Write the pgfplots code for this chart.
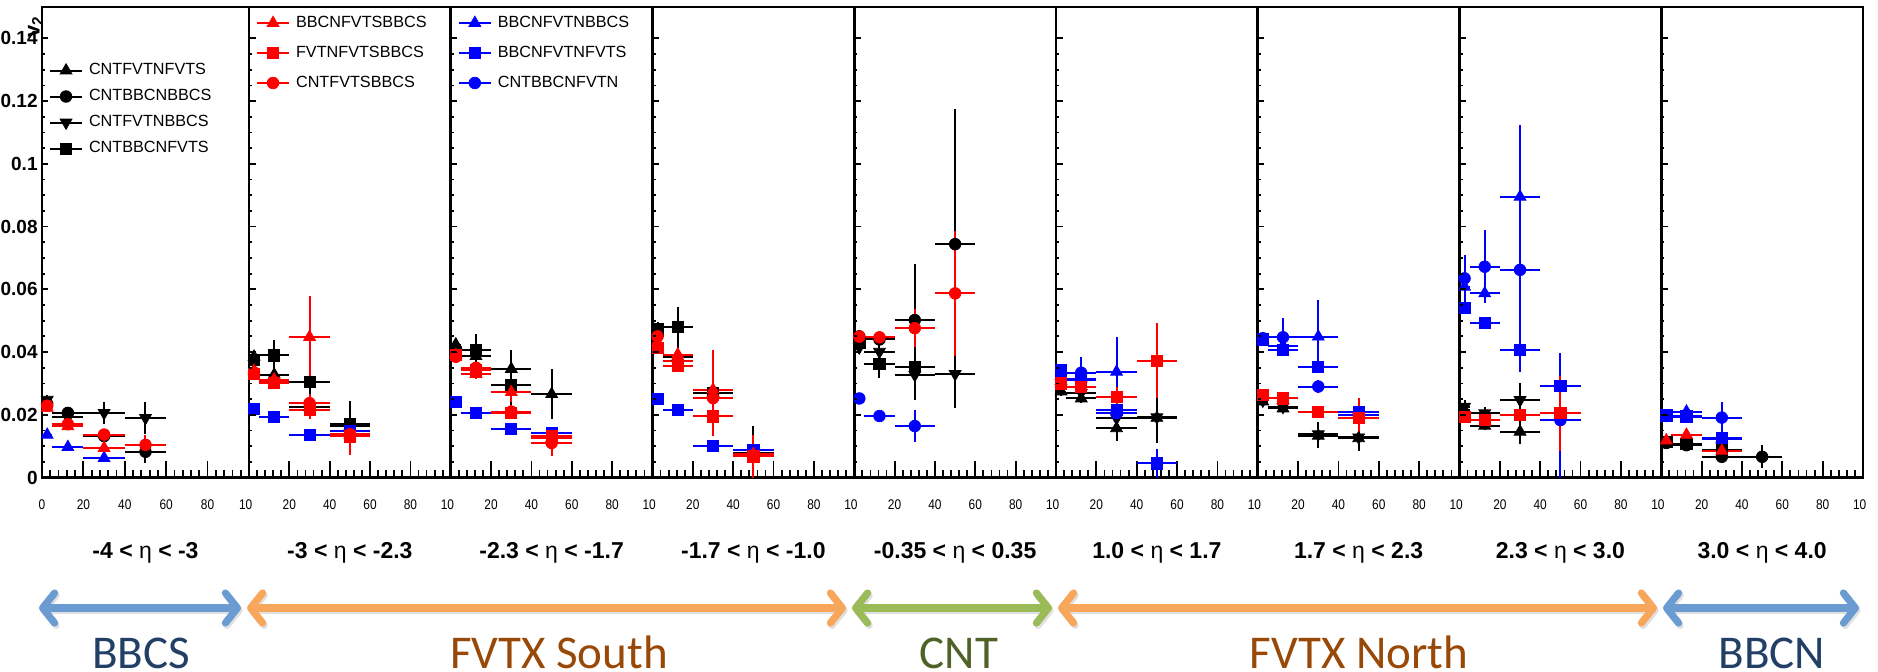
\documentclass[border=0pt]{standalone}
\usepackage{fontspec}
\setmainfont{Liberation Sans}
\newfontfamily\tickfont[FakeStretch=0.85]{Liberation Sans}
\newfontfamily\calfont{Carlito}
\usepackage{pgfplots}
\pgfplotsset{compat=1.18}
\usetikzlibrary{arrows.meta}

\definecolor{arrB}{HTML}{6B9BD1}
\definecolor{arrO}{HTML}{F8A65C}
\definecolor{arrG}{HTML}{9BBB59}
\definecolor{txtB}{HTML}{223F66}
\definecolor{txtO}{HTML}{984807}
\definecolor{txtG}{HTML}{4F6228}

% marker and colour styles (tikz level, so legends can use them too)
\tikzset{
  bk/.style={color=black}, rd/.style={color=red}, bl/.style={color=blue},
  tU/.style={mark=triangle*, mark size=3.4pt},
  tD/.style={mark=triangle*, mark size=3.4pt, mark options={rotate=180}},
  ci/.style={mark=*, mark size=2.9pt},
  sq/.style={mark=square*, mark size=2.8pt},
}

\pgfplotsset{
  eb/.style={only marks, forget plot,
    error bars/.cd, x dir=both, x explicit, y dir=both, y explicit,
    error mark=none, error bar style={line width=1pt, solid}},
  panel/.style={
    scale only axis, height=235.25pt, anchor=south west,
    xmin=0, xmax=100, ymin=0, ymax=0.15,
    xtick={0,20,40,60,80,100}, minor x tick num=4,
    xtick pos=left, tick align=inside,
    major tick length=8.5pt, minor tick length=4pt,
    ytick=\empty,
    axis line style={line width=1.4pt},
    tick style={line width=0.9pt, black},
    xticklabel style={font=\tickfont\fontsize{7}{8}\selectfont, anchor=base, yshift=-15.75pt, inner sep=0pt},
    legend cell align=left,
    legend style={draw=none, fill=none, inner sep=0pt, outer sep=0pt, anchor=north west,
      font=\fontsize{8.1}{9}\selectfont, column sep=3pt, nodes={inner sep=0pt}},
    legend image code/.code={%
      \path[draw=none, fill=none] (0pt,-4pt) rectangle (16pt,4pt);
      \draw[line width=1pt,##1] (0pt,0pt) -- (16pt,0pt);
      \draw[##1] plot coordinates {(8pt,0pt)};},
  },
  yframe/.style={
    scale only axis, height=235.25pt, anchor=south west,
    xmin=0, xmax=100, ymin=0, ymax=0.15,
    xtick=\empty, ytick={0,0.02,0.04,0.06,0.08,0.1,0.12,0.14},
    minor y tick num=3, ytick pos=left, tick align=inside,
    major tick length=3.25pt, minor tick length=1.6pt,
    axis line style={draw=none},
    tick style={line width=0.9pt, black},
    yticklabels={},
    yticklabel style={font=\bfseries\fontsize{9.5}{10}\selectfont, anchor=east, inner sep=0pt, xshift=-2pt},
    every axis y label/.style={at={(rel axis cs:-0.012,0.996)}, rotate=90, anchor=base east,
      font=\bfseries\fontsize{11}{12}\selectfont},
  },
}

% one series: x, y, x error, y error
\newcommand{\pts}[2]{\addplot[#1,eb] table[row sep=\\, x index=0, y index=1, x error index=2, y error index=3]{#2};}

\begin{document}
\begin{tikzpicture}
\useasboundingbox (0,0) rectangle (939pt,335.5pt);

% ---------- -4 < eta < -3
\begin{axis}[panel, at={(21pt,96.75pt)}, width=103.5pt,
  xticklabels={0,20,40,60,80,{10\hphantom{0}}},
  legend style={at={(axis description cs:0.034,0.882)}, row sep=5pt}]
\pts{bk,ci}{2.5 0.0235 2.5 0.0010\\ 12.5 0.0206 7.5 0.0012\\ 30 0.0132 10 0.0015\\ 50 0.0082 10 0.0037\\}
\pts{bk,tD}{2.5 0.0248 2.5 0.0015\\ 12.5 0.0192 7.5 0.0015\\ 30 0.0206 10 0.0035\\ 50 0.0190 10 0.0050\\}
\pts{bl,tU}{2.5 0.0136 2.5 0.0010\\ 12.5 0.0097 7.5 0.0010\\ 30 0.0062 10 0.0012\\}
\pts{rd,tU}{2.5 0.0222 2.5 0.0010\\ 12.5 0.0163 7.5 0.0010\\ 30 0.0094 10 0.0012\\}
\pts{rd,ci}{2.5 0.0229 2.5 0.0010\\ 12.5 0.0170 7.5 0.0010\\ 30 0.0137 10 0.0015\\ 50 0.0104 10 0.0030\\}
\addlegendimage{bk,tU}\addlegendentry{CNTFVTNFVTS}
\addlegendimage{bk,ci}\addlegendentry{CNTBBCNBBCS}
\addlegendimage{bk,tD}\addlegendentry{CNTFVTNBBCS}
\addlegendimage{bk,sq}\addlegendentry{CNTBBCNFVTS}
\end{axis}
\begin{axis}[yframe, at={(21pt,96.75pt)}, width=103.5pt,
  yticklabels={0,0.02,0.04,0.06,0.08,0.1,0.12,0.14}, ylabel={v\textsubscript{2}}]
\end{axis}

% ---------- -3 < eta < -2.3
\begin{axis}[panel, at={(124.5pt,96.75pt)}, width=100.875pt,
  xticklabels={,20,40,60,80,{10\hphantom{0}}},
  legend style={at={(axis description cs:0.035,0.983)}, row sep=7pt}]
\pts{bk,tU}{2.5 0.0385 2.5 0.0015\\ 12.5 0.0328 7.5 0.0015\\ 30 0.0224 10 0.0030\\ 50 0.0163 10 0.0080\\}
\pts{bk,sq}{2.5 0.0374 2.5 0.0015\\ 12.5 0.0389 7.5 0.0050\\ 30 0.0305 10 0.0100\\ 50 0.0170 10 0.0040\\}
\pts{bl,sq}{2.5 0.0218 2.5 0.0010\\ 12.5 0.0193 7.5 0.0010\\ 30 0.0136 10 0.0015\\ 50 0.0147 10 0.0020\\}
\pts{rd,tU}{2.5 0.0340 2.5 0.0015\\ 12.5 0.0312 7.5 0.0015\\ 30 0.0448 10 0.0130\\ 50 0.0135 10 0.0020\\}
\pts{rd,sq}{2.5 0.0331 2.5 0.0015\\ 12.5 0.0301 7.5 0.0015\\ 30 0.0216 10 0.0030\\ 50 0.0131 10 0.0060\\}
\pts{rd,ci}{2.5 0.0335 2.5 0.0015\\ 12.5 0.0305 7.5 0.0015\\ 30 0.0237 10 0.0030\\ 50 0.0138 10 0.0030\\}
\addlegendimage{rd,tU}\addlegendentry{BBCNFVTSBBCS}
\addlegendimage{rd,sq}\addlegendentry{FVTNFVTSBBCS}
\addlegendimage{rd,ci}\addlegendentry{CNTFVTSBBCS}
\end{axis}
\begin{axis}[yframe, at={(124.5pt,96.75pt)}, width=100.875pt]
\end{axis}

% ---------- -2.3 < eta < -1.7
\begin{axis}[panel, at={(225.375pt,96.75pt)}, width=100.875pt,
  xticklabels={,20,40,60,80,{10\hphantom{0}}},
  legend style={at={(axis description cs:0.035,0.983)}, row sep=7pt}]
\pts{bk,tU}{2.5 0.0424 2.5 0.0020\\ 12.5 0.0387 7.5 0.0020\\ 30 0.0346 10 0.0060\\ 50 0.0266 10 0.0080\\}
\pts{bk,sq}{2.5 0.0400 2.5 0.0015\\ 12.5 0.0408 7.5 0.0050\\ 30 0.0296 10 0.0070\\}
\pts{bl,sq}{2.5 0.0240 2.5 0.0010\\ 12.5 0.0206 7.5 0.0010\\ 30 0.0154 10 0.0015\\ 50 0.0142 10 0.0015\\}
\pts{rd,tU}{2.5 0.0390 2.5 0.0015\\ 12.5 0.0330 7.5 0.0015\\ 30 0.0272 10 0.0030\\ 50 0.0125 10 0.0020\\}
\pts{rd,sq}{2.5 0.0392 2.5 0.0015\\ 12.5 0.0344 7.5 0.0015\\ 30 0.0206 10 0.0020\\ 50 0.0131 10 0.0020\\}
\pts{rd,ci}{2.5 0.0385 2.5 0.0015\\ 12.5 0.0350 7.5 0.0015\\ 30 0.0210 10 0.0020\\ 50 0.0110 10 0.0040\\}
\addlegendimage{bl,tU}\addlegendentry{BBCNFVTNBBCS}
\addlegendimage{bl,sq}\addlegendentry{BBCNFVTNFVTS}
\addlegendimage{bl,ci}\addlegendentry{CNTBBCNFVTN}
\end{axis}
\begin{axis}[yframe, at={(225.375pt,96.75pt)}, width=100.875pt]
\end{axis}

% ---------- -1.7 < eta < -1.0
\begin{axis}[panel, at={(326.25pt,96.75pt)}, width=100.875pt,
  xticklabels={,20,40,60,80,{10\hphantom{0}}}]
\pts{bk,tU}{2.5 0.0460 2.5 0.0020\\ 12.5 0.0384 7.5 0.0020\\ 30 0.0270 10 0.0030\\ 50 0.0078 10 0.0085\\}
\pts{bk,sq}{2.5 0.0472 2.5 0.0025\\ 12.5 0.0479 7.5 0.0065\\ 30 0.0269 10 0.0105\\}
\pts{bl,sq}{2.5 0.0251 2.5 0.0010\\ 12.5 0.0216 7.5 0.0010\\ 30 0.0102 10 0.0015\\ 50 0.0088 10 0.0010\\}
\pts{rd,tU}{2.5 0.0430 2.5 0.0015\\ 12.5 0.0392 7.5 0.0020\\ 30 0.0280 10 0.0125\\ 50 0.0075 10 0.0020\\}
\pts{rd,sq}{2.5 0.0413 2.5 0.0015\\ 12.5 0.0357 7.5 0.0020\\ 30 0.0195 10 0.0030\\ 50 0.0067 10 0.0068\\}
\pts{rd,ci}{2.5 0.0450 2.5 0.0015\\ 12.5 0.0370 7.5 0.0020\\ 30 0.0253 10 0.0120\\ 50 0.0070 10 0.0030\\}
\end{axis}
\begin{axis}[yframe, at={(326.25pt,96.75pt)}, width=100.875pt]
\end{axis}

% ---------- -0.35 < eta < 0.35
\begin{axis}[panel, at={(427.125pt,96.75pt)}, width=100.875pt,
  xticklabels={,20,40,60,80,{10\hphantom{0}}}]
\pts{bk,ci}{2.5 0.0450 2.5 0.0020\\ 12.5 0.0440 7.5 0.0020\\ 30 0.0502 10 0.0180\\ 50 0.0744 10 0.0430\\}
\pts{bk,tD}{2.5 0.0415 2.5 0.0020\\ 12.5 0.0401 7.5 0.0020\\ 30 0.0327 10 0.0080\\ 50 0.0330 10 0.0110\\}
\pts{bk,sq}{2.5 0.0428 2.5 0.0020\\ 12.5 0.0362 7.5 0.0045\\ 30 0.0353 10 0.0040\\}
\pts{bl,ci}{2.5 0.0252 2.5 0.0010\\ 12.5 0.0196 7.5 0.0015\\ 30 0.0164 10 0.0050\\}
\pts{rd,ci}{2.5 0.0449 2.5 0.0015\\ 12.5 0.0447 7.5 0.0015\\ 30 0.0476 10 0.0060\\ 50 0.0587 10 0.0200\\}
\end{axis}
\begin{axis}[yframe, at={(427.125pt,96.75pt)}, width=100.875pt]
\end{axis}

% ---------- 1.0 < eta < 1.7
\begin{axis}[panel, at={(528pt,96.75pt)}, width=100.875pt,
  xticklabels={,20,40,60,80,{10\hphantom{0}}}]
\pts{bk,tU}{2.5 0.0274 2.5 0.0015\\ 12.5 0.0252 7.5 0.0015\\ 30 0.0157 10 0.0040\\ 50 0.0190 10 0.0080\\}
\pts{bk,tD}{2.5 0.0285 2.5 0.0015\\ 12.5 0.0270 7.5 0.0015\\ 30 0.0189 10 0.0030\\ 50 0.0192 10 0.0078\\}
\pts{bl,tU}{2.5 0.0325 2.5 0.0020\\ 12.5 0.0315 7.5 0.0020\\ 30 0.0337 10 0.0110\\}
\pts{bl,sq}{2.5 0.0343 2.5 0.0015\\ 12.5 0.0310 7.5 0.0015\\ 30 0.0215 10 0.0015\\ 50 0.0045 10 0.0047\\}
\pts{bl,ci}{2.5 0.0330 2.5 0.0020\\ 12.5 0.0334 7.5 0.0050\\ 30 0.0205 10 0.0020\\}
\pts{rd,sq}{2.5 0.0300 2.5 0.0015\\ 12.5 0.0290 7.5 0.0015\\ 30 0.0258 10 0.0030\\ 50 0.0372 10 0.0120\\}
\end{axis}
\begin{axis}[yframe, at={(528pt,96.75pt)}, width=100.875pt]
\end{axis}

% ---------- 1.7 < eta < 2.3
\begin{axis}[panel, at={(628.875pt,96.75pt)}, width=100.875pt,
  xticklabels={,20,40,60,80,{10\hphantom{0}}}]
\pts{bk,tU}{2.5 0.0242 2.5 0.0015\\ 12.5 0.0220 7.5 0.0015\\ 30 0.0133 10 0.0040\\ 50 0.0125 10 0.0040\\}
\pts{bk,tD}{2.5 0.0245 2.5 0.0015\\ 12.5 0.0225 7.5 0.0015\\ 30 0.0138 10 0.0040\\ 50 0.0128 10 0.0040\\}
\pts{bl,tU}{2.5 0.0440 2.5 0.0020\\ 12.5 0.0420 7.5 0.0020\\ 30 0.0449 10 0.0117\\}
\pts{bl,sq}{2.5 0.0440 2.5 0.0015\\ 12.5 0.0406 7.5 0.0015\\ 30 0.0353 10 0.0020\\ 50 0.0210 10 0.0015\\}
\pts{bl,ci}{2.5 0.0444 2.5 0.0015\\ 12.5 0.0447 7.5 0.0060\\ 30 0.0290 10 0.0020\\ 50 0.0200 10 0.0020\\}
\pts{rd,sq}{2.5 0.0263 2.5 0.0015\\ 12.5 0.0252 7.5 0.0015\\ 30 0.0210 10 0.0015\\ 50 0.0189 10 0.0065\\}
\end{axis}
\begin{axis}[yframe, at={(628.875pt,96.75pt)}, width=100.875pt]
\end{axis}

% ---------- 2.3 < eta < 3.0
\begin{axis}[panel, at={(729.75pt,96.75pt)}, width=100.875pt,
  xticklabels={,20,40,60,80,{10\hphantom{0}}}]
\pts{bk,tU}{2.5 0.0215 2.5 0.0015\\ 12.5 0.0165 7.5 0.0015\\ 30 0.0146 10 0.0040\\}
\pts{bk,tD}{2.5 0.0226 2.5 0.0020\\ 12.5 0.0205 7.5 0.0020\\ 30 0.0247 10 0.0053\\}
\pts{bl,tU}{2.5 0.0608 2.5 0.0030\\ 12.5 0.0587 7.5 0.0030\\ 30 0.0895 10 0.0229\\}
\pts{bl,sq}{2.5 0.0540 2.5 0.0020\\ 12.5 0.0492 7.5 0.0015\\ 30 0.0407 10 0.0070\\ 50 0.0292 10 0.0105\\}
\pts{bl,ci}{2.5 0.0635 2.5 0.0075\\ 12.5 0.0672 7.5 0.0117\\ 30 0.0662 10 0.0300\\ 50 0.0183 10 0.0183\\}
\pts{rd,sq}{2.5 0.0194 2.5 0.0015\\ 12.5 0.0183 7.5 0.0015\\ 30 0.0199 10 0.0020\\ 50 0.0205 10 0.0120\\}
\end{axis}
\begin{axis}[yframe, at={(729.75pt,96.75pt)}, width=100.875pt]
\end{axis}

% ---------- 3.0 < eta < 4.0
\begin{axis}[panel, at={(830.625pt,96.75pt)}, width=100.875pt,
  xticklabels={,20,40,60,80,{10\hphantom{0}}}]
\pts{bk,ci}{2.5 0.0110 2.5 0.0010\\ 12.5 0.0103 7.5 0.0010\\ 30 0.0066 10 0.0015\\ 50 0.0066 10 0.0037\\}
\pts{bk,sq}{2.5 0.0114 2.5 0.0015\\ 12.5 0.0106 7.5 0.0015\\ 30 0.0088 10 0.0015\\}
\pts{bl,tU}{2.5 0.0192 2.5 0.0010\\ 12.5 0.0210 7.5 0.0010\\ 30 0.0122 10 0.0010\\}
\pts{bl,sq}{2.5 0.0198 2.5 0.0010\\ 12.5 0.0195 7.5 0.0010\\ 30 0.0125 10 0.0010\\}
\pts{bl,ci}{2.5 0.0196 2.5 0.0012\\ 12.5 0.0194 7.5 0.0012\\ 30 0.0191 10 0.0050\\}
\pts{rd,tU}{2.5 0.0118 2.5 0.0010\\ 12.5 0.0136 7.5 0.0010\\ 30 0.0085 10 0.0010\\}
\end{axis}
\begin{axis}[yframe, at={(830.625pt,96.75pt)}, width=100.875pt]
\end{axis}

% eta ranges under the panels
\begin{scope}[every node/.style={anchor=base, font=\fontsize{11.5}{13}\selectfont\bfseries}]
\node at (72.75pt,56.5pt)   {-4 < {\mdseries η} < -3};
\node at (174.94pt,56.5pt)  {-3 < {\mdseries η} < -2.3};
\node at (275.81pt,56.5pt)  {-2.3 < {\mdseries η} < -1.7};
\node at (376.69pt,56.5pt)  {-1.7 < {\mdseries η} < -1.0};
\node at (477.56pt,56.5pt)  {-0.35 < {\mdseries η} < 0.35};
\node at (578.44pt,56.5pt)  {1.0 < {\mdseries η} < 1.7};
\node at (679.31pt,56.5pt)  {1.7 < {\mdseries η} < 2.3};
\node at (780.19pt,56.5pt)  {2.3 < {\mdseries η} < 3.0};
\node at (881.06pt,56.5pt)  {3.0 < {\mdseries η} < 4.0};
\end{scope}

% detector arrows, with a faint drop shadow
\tikzset{reg/.style={line width=3.6pt,
  {Straight Barb[length=6pt,width=15pt,round]}-{Straight Barb[length=6pt,width=15pt,round]}},
  shd/.style={reg, black, opacity=0.12, shift={(0.8pt,-1.2pt)}}}
\foreach \a/\b in {19.5/120.5, 123.5/423, 426/526, 529/828.5, 831.5/929.5}
  \draw[shd] (\a pt,31.5pt) -- (\b pt,31.5pt);
\draw[reg, arrB] (19.5pt,31.5pt) -- (120.5pt,31.5pt);
\draw[reg, arrO] (123.5pt,31.5pt) -- (423pt,31.5pt);
\draw[reg, arrG] (426pt,31.5pt) -- (526pt,31.5pt);
\draw[reg, arrO] (529pt,31.5pt) -- (828.5pt,31.5pt);
\draw[reg, arrB] (831.5pt,31.5pt) -- (929.5pt,31.5pt);

\begin{scope}[every node/.style={anchor=base, font=\calfont\fontsize{23.5}{26}\selectfont}]
\node[txtB] at (70.5pt,1.5pt)  {BBCS};
\node[txtO] at (279.5pt,1.5pt) {FVTX South};
\node[txtG] at (479.5pt,1.5pt) {CNT};
\node[txtO] at (679.5pt,1.5pt) {FVTX North};
\node[txtB] at (886pt,1.5pt)   {BBCN};
\end{scope}
\end{tikzpicture}
\end{document}
